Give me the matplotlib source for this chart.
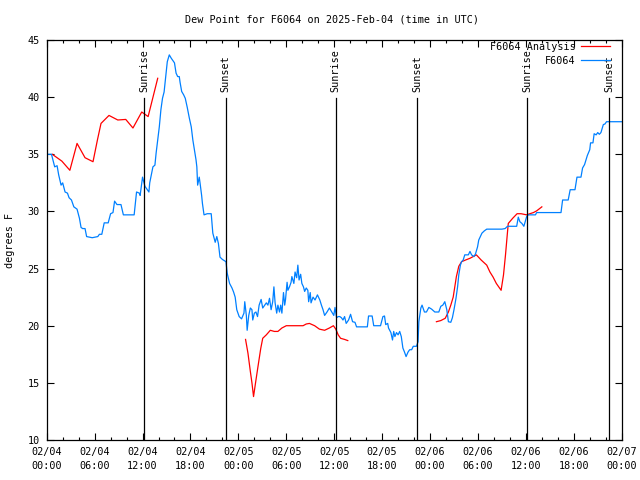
import matplotlib
matplotlib.use('Agg')
import matplotlib.pyplot as plt
import numpy as np

title = "Dew Point for F6064 on 2025-Feb-04 (time in UTC)"
tick_hours = [0, 6, 12, 18, 24, 30, 36, 42, 48, 54, 60, 66, 72]
tick_labels = ["02/04\n00:00", "02/04\n06:00", "02/04\n12:00", "02/04\n18:00",
               "02/05\n00:00", "02/05\n06:00", "02/05\n12:00", "02/05\n18:00",
               "02/06\n00:00", "02/06\n06:00", "02/06\n12:00", "02/06\n18:00",
               "02/07\n00:00"]
sun_hours = [12.21, 22.41, 36.17, 46.42, 60.18, 70.45]
sun_labels = ["Sunrise", "Sunset", "Sunrise", "Sunset", "Sunrise", "Sunset"]

# F6064 observations (hours since 02/04 00:00 UTC, degrees F)
obs_hours = [0.0, 0.6, 1.0, 1.3, 1.5, 1.8, 2.0, 2.3, 2.6, 2.8, 3.1, 3.4, 3.8, 4.1, 4.3, 4.5, 4.8, 5.0,
             5.7, 6.4, 6.6, 6.9, 7.2, 7.7, 8.0, 8.3, 8.5, 8.8, 9.3, 9.6, 10.95, 11.25, 11.6, 11.7,
             12.0, 12.3, 12.6, 12.8, 12.9, 13.3, 13.55, 13.7, 13.9, 14.1, 14.3, 14.5, 14.7, 14.9,
             15.1, 15.35, 15.6, 15.8, 16.0, 16.2, 16.4, 16.6, 16.7, 16.9, 17.15, 17.35, 17.6, 17.85,
             18.1, 18.3, 18.5, 18.7, 18.8, 18.9, 19.1, 19.2, 19.4, 19.5, 19.7, 20.1, 20.6, 20.8,
             21.1, 21.3, 21.5, 21.7, 22.0, 22.45, 22.6, 22.9, 23.2, 23.4, 23.6, 23.8, 24.1, 24.4,
             24.7, 24.8, 25.0, 25.1, 25.3, 25.5, 25.7, 25.8, 26.0, 26.2, 26.4, 26.6, 26.85, 27.05,
             27.3, 27.5, 27.7, 27.9, 28.1, 28.3, 28.45, 28.6, 28.8, 28.95, 29.15, 29.3, 29.45,
             29.65, 29.8, 29.9, 30.1, 30.2, 30.4, 30.6, 30.7, 30.95, 31.1, 31.3, 31.45, 31.6,
             31.8, 31.95, 32.15, 32.3, 32.5, 32.7, 32.8, 33.0, 33.1, 33.35, 33.6, 33.9, 34.2,
             34.4, 34.6, 34.8, 35.1, 35.4, 35.7, 35.95, 36.1, 36.3, 36.5, 36.7, 36.9, 37.1,
             37.3, 37.5, 37.8, 38.05, 38.3, 38.6, 38.8, 40.15, 40.3, 40.75, 40.95, 41.8, 42.1,
             42.3, 42.45, 42.7, 42.8, 43.1, 43.3, 43.45, 43.6, 43.8, 44.0, 44.2, 44.4, 44.6,
             44.8, 45.0, 45.25, 45.45, 45.7, 45.9, 46.3, 46.5, 46.6, 46.85, 47.0, 47.3, 47.55,
             47.85, 48.2, 48.6, 49.1, 49.35, 49.6, 49.85, 50.1, 50.3, 50.6, 50.8, 51.0, 51.25,
             51.45, 51.6, 51.8, 51.95, 52.15, 52.35, 52.8, 53.0, 53.2, 53.5, 53.7, 53.95, 54.1,
             54.3, 54.5, 54.8, 55.1, 57.0, 57.4, 57.7, 58.85, 59.05, 59.25, 59.5, 59.75, 60.1,
             60.3, 61.2, 61.35, 64.4, 64.6, 65.3, 65.55, 66.15, 66.4, 66.9, 67.1, 67.35, 67.7,
             68.0, 68.1, 68.4, 68.55, 68.8, 69.0, 69.2, 69.4, 69.7, 69.9, 70.1, 72.0]
obs_values = [35.0, 35.0, 33.9, 34.0, 33.2, 32.3, 32.5, 31.7, 31.6, 31.2, 31.0, 30.4, 30.2, 29.4, 28.6, 28.5, 28.5, 27.8,
              27.7, 27.8, 28.0, 28.0, 29.0, 29.0, 29.8, 29.9, 30.9, 30.6, 30.6, 29.7, 29.7, 31.7, 31.6, 31.4,
              33.0, 32.2, 31.9, 31.7, 32.5, 33.9, 34.05, 35.1, 36.25, 37.4, 38.9, 39.9, 40.45, 41.8,
              43.1, 43.7, 43.4, 43.2, 43.0, 42.1, 41.8, 41.8, 41.3, 40.5, 40.2, 39.9, 39.1, 38.2,
              37.4, 36.25, 35.4, 34.5, 33.9, 32.3, 33.0, 32.5, 31.4, 30.7, 29.7, 29.8, 29.8, 28.1,
              27.3, 27.8, 27.2, 26.0, 25.8, 25.6, 24.6, 23.7, 23.3, 22.95, 22.5, 21.4, 20.8, 20.6,
              21.1, 22.1, 20.9, 19.6, 20.9, 21.55, 21.4, 20.5, 21.1, 21.2, 20.8, 21.8, 22.3, 21.55,
              21.8, 22.0, 21.8, 22.4, 21.4, 22.1, 23.4, 22.0, 21.1, 21.8, 21.2, 21.8, 21.1,
              22.9, 21.8, 22.25, 23.8, 23.1, 23.4, 23.8, 24.3, 23.7, 24.7, 24.2, 25.3, 24.0,
              24.5, 23.7, 23.4, 23.0, 23.3, 23.1, 22.1, 22.9, 22.0, 22.5, 22.25, 22.7, 22.25,
              21.8, 21.4, 20.9, 21.2, 21.55, 21.2, 20.9, 21.6, 20.7, 20.8, 20.8, 20.7, 20.5,
              20.8, 20.2, 20.5, 21.0, 20.35, 20.3, 19.9, 19.9, 20.85, 20.85, 20.0, 20.0, 20.8,
              20.85, 20.1, 20.2, 19.8, 19.4, 18.75, 19.5, 19.05, 19.4, 19.2, 19.5, 19.05, 18.05,
              17.7, 17.3, 17.7, 17.9, 17.9, 18.2, 18.2, 18.6, 20.35, 21.55, 21.8, 21.2, 21.2,
              21.6, 21.45, 21.2, 21.2, 21.7, 21.8, 22.1, 21.4, 20.35, 20.3, 20.7, 21.4, 22.4,
              23.4, 24.45, 25.3, 25.6, 25.75, 26.2, 26.2, 26.5, 26.2, 26.05, 26.3, 26.9, 27.5,
              27.8, 28.1, 28.3, 28.45, 28.45, 28.5, 28.7, 28.7, 29.5, 29.1, 28.95, 28.7, 29.55,
              29.7, 29.7, 29.9, 29.9, 31.0, 31.0, 31.9, 31.9, 33.0, 33.0, 33.8, 34.1, 34.9,
              35.4, 36.0, 36.0, 36.8, 36.7, 36.9, 36.75, 36.9, 37.6, 37.65, 37.85, 37.85]

# F6064 analysis (gaps separate the three segments)
ana_hours = [0.7, 1.3, 1.9, 2.9, 3.8, 4.8, 5.8, 6.35, 6.8, 7.8, 8.9, 9.9, 10.8, 11.9, 12.7, 13.9,
             19.0,
             24.9, 25.2, 25.5, 25.7, 25.9, 26.15, 26.45, 26.8, 27.05, 27.5, 28.0, 28.5, 28.95, 29.45,
             30.0, 32.1, 32.5, 32.9, 33.55, 34.15, 34.8, 35.4, 35.9, 36.2, 36.5, 36.8, 37.3, 37.7,
             43.0,
             48.8, 49.35, 49.9, 50.3, 50.6, 50.9, 51.1, 51.3, 51.6, 51.95, 52.45, 53.0, 53.4, 53.8,
             54.4, 55.1, 55.5, 55.9, 56.3, 56.9, 57.2, 57.45, 57.7, 57.8, 58.35, 58.9, 59.4, 60.1,
             60.5, 60.95, 61.35, 62.0]
ana_values = [35.0, 34.7, 34.4, 33.6, 35.95, 34.7, 34.35, 36.25, 37.7, 38.4, 38.0, 38.05, 37.3, 38.7, 38.3, 41.65,
              np.nan,
              18.8, 17.6, 16.0, 15.0, 13.8, 15.0, 16.4, 18.0, 18.9, 19.2, 19.6, 19.5, 19.5, 19.8,
              20.0, 20.0, 20.15, 20.2, 20.0, 19.7, 19.6, 19.8, 20.0, 19.7, 19.2, 18.9, 18.8, 18.7,
              np.nan,
              20.35, 20.45, 20.65, 21.2, 21.8, 22.5, 23.4, 24.3, 25.2, 25.6, 25.75, 25.9, 26.05, 26.2,
              25.75, 25.3, 24.7, 24.25, 23.7, 23.1, 24.45, 26.2, 28.2, 28.95, 29.4, 29.8, 29.8, 29.7,
              29.8, 29.9, 30.05, 30.4]

FS = 7.3
plt.rcParams['font.family'] = ['DejaVu Sans Mono']
plt.rcParams['font.size'] = FS

fig = plt.figure(figsize=(6.4, 4.8), dpi=100)
ax = fig.add_axes([46.7 / 640, 40 / 480, (621.7 - 46.7) / 640, 400 / 480])

ax.plot(ana_hours, ana_values, color='#ff0000', lw=0.9, label='F6064 Analysis')
ax.plot(obs_hours, obs_values, color='#0080ff', lw=0.9, label='F6064')

for h, lab in zip(sun_hours, sun_labels):
    ax.plot([h, h], [10, 39.9], color='black', lw=0.9)
    ax.text(h, 40.45, lab, rotation=90, ha='center', va='bottom', fontsize=FS)

ax.set_xlim(0, 72)
ax.set_ylim(10, 45)
ax.set_xticks(tick_hours)
ax.set_xticklabels(tick_labels, linespacing=1.45)
ax.set_xticks(np.arange(0, 73, 2), minor=True)
ax.set_yticks(np.arange(10, 46, 5))
ax.tick_params(which='major', direction='in', top=True, right=True, length=5, width=0.8, pad=5)
ax.tick_params(which='minor', direction='in', top=True, right=True, length=2.5, width=0.8)
ax.tick_params(axis='y', pad=5)
for s in ax.spines.values():
    s.set_linewidth(0.9)

leg = ax.legend(loc='upper right', bbox_to_anchor=(610 / 640, 1 - 42 / 480),
                bbox_transform=fig.transFigure, frameon=False, markerfirst=False,
                handlelength=2.9, handletextpad=0.5, labelspacing=0.35,
                borderpad=0, borderaxespad=0, fontsize=FS)

fig.text(332 / 640, 1 - 19 / 480, title, ha='center', va='center', fontsize=FS)
fig.text(10 / 640, 1 - 240 / 480, 'degrees F', rotation=90, ha='center', va='center', fontsize=FS)

fig.savefig('out.png', dpi=100)
